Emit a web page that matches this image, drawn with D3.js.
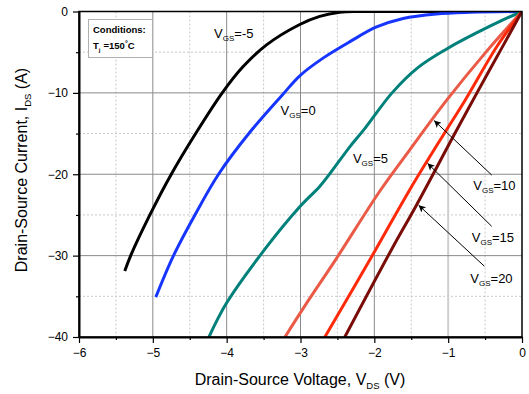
<!DOCTYPE html>
<html>
<head>
<meta charset="utf-8">
<script src="https://cdn.jsdelivr.net/npm/d3@7"></script>
<style>
  html, body { margin: 0; padding: 0; background: #fff; }
  svg { display: block; font-family: "Liberation Sans", Arial, sans-serif; }
</style>
</head>
<body>
<svg id="chart" width="529" height="394"></svg>
<script>
// Reverse-conduction I-V curves, Tj = 150 °C, one curve per gate voltage
const gateVoltages = [-5, 0, 5, 10, 15, 20];
const seriesColors = ["#000000", "#1636ff", "#00807a", "#ea5a46", "#ff2a0a", "#7a0c08"];

// [V_DS (V), I_DS (A)]
const curveVgsM5 = [[-5.38,-31.9],[-5.30,-30],[-5.04,-25],[-4.75,-20],[-4.42,-15],[-4.06,-10],[-3.78,-6.8],[-3.46,-4.1],[-3.01,-1.6],[-2.74,-0.6],[-2.47,-0.1],[-2.2,0],[-1.5,0],[0,0]];
const curveVgs0 = [[-4.96,-35.1],[-4.72,-30],[-4.43,-25],[-4.11,-20],[-3.70,-15],[-3.24,-10.2],[-3.01,-7.9],[-2.69,-5.7],[-2.33,-3.7],[-1.97,-1.9],[-1.61,-0.85],[-1.16,-0.3],[-0.70,-0.1],[0,0]];
const curveVgs5 = [[-4.24,-40],[-4.0,-35.8],[-3.49,-29.3],[-3.01,-24.0],[-2.74,-21.5],[-2.60,-19.9],[-2.33,-16.6],[-2.13,-14.4],[-1.76,-10.0],[-1.41,-6.9],[-1.02,-4.6],[-0.61,-2.6],[-0.25,-1.0],[0,0]];
const curveVgs10 = [[-3.21,-40],[-2.95,-36.3],[-2.51,-30.3],[-1.92,-22.0],[-1.52,-17.0],[-1.02,-10.9],[-0.48,-4.9],[0,0]];
const curveVgs15 = [[-2.67,-40],[-1.99,-29.4],[-1.52,-21.9],[-1.04,-14.8],[-0.77,-10.9],[-0.34,-4.3],[0,0]];
const curveVgs20 = [[-2.40,-40],[-1.77,-29.3],[-1.43,-23.8],[-0.91,-15.0],[-0.61,-10.0],[-0.25,-4.1],[0,0]];
const curves = [curveVgsM5, curveVgs0, curveVgs5, curveVgs10, curveVgs15, curveVgs20];

const xTicks = [-6, -5, -4, -3, -2, -1, 0];
const xMinorTicks = [-5.5, -4.5, -3.5, -2.5, -1.5, -0.5];
const yTicks = [0, -10, -20, -30, -40];
const yMinorTicks = [-5, -15, -25, -35];

// curve labels: [V_DS, I_DS] of the label start
const labelPos = [[-4.17,-3.3],[-3.27,-12.7],[-2.29,-18.65],[-0.66,-21.9],[-0.68,-28.3],[-0.70,-33.35]];
// leader arrows for the three right-hand labels: [tail, tip]
const arrowLines = [
  {vgs: 10, from: [-0.41,-20.1], to: [-1.19,-13.4]},
  {vgs: 15, from: [-0.41,-26.4], to: [-1.28,-18.65]},
  {vgs: 20, from: [-0.51,-31.3], to: [-1.40,-23.8]}
];

const svg = d3.select("#chart");
const plotL = 79, plotR = 522, plotT = 11.5, plotB = 337;

const x = d3.scaleLinear().domain([-6, 0]).range([plotL, plotR]);
const y = d3.scaleLinear().domain([-40, 0]).range([plotB, plotT]);

const defs = svg.append("defs");
defs.append("clipPath").attr("id", "plotClip")
  .append("rect").attr("x", plotL).attr("y", plotT)
  .attr("width", plotR - plotL).attr("height", plotB - plotT);

defs.append("marker")
  .attr("id", "arrowHead").attr("viewBox", "0 0 10 10")
  .attr("refX", 10).attr("refY", 5)
  .attr("markerWidth", 10).attr("markerHeight", 7)
  .attr("markerUnits", "userSpaceOnUse")
  .attr("orient", "auto")
  .append("path").attr("d", "M0,0 L10,5 L0,10 L2.5,5 Z").attr("fill", "#000");

// grid
const grid = svg.append("g");
grid.selectAll(".vmin").data(xMinorTicks).join("line")
  .attr("x1", d => x(d)).attr("x2", d => x(d)).attr("y1", plotT).attr("y2", plotB)
  .attr("stroke", "#c8c8c8").attr("stroke-width", 1).attr("stroke-dasharray", "2,2");
grid.selectAll(".hmin").data(yMinorTicks).join("line")
  .attr("x1", plotL).attr("x2", plotR).attr("y1", d => y(d)).attr("y2", d => y(d))
  .attr("stroke", "#c8c8c8").attr("stroke-width", 1).attr("stroke-dasharray", "2,2");
grid.selectAll(".vmaj").data(xTicks.filter(d => d > -6 && d < 0)).join("line")
  .attr("x1", d => x(d)).attr("x2", d => x(d)).attr("y1", plotT).attr("y2", plotB)
  .attr("stroke", d => d === -1 ? "#cfcfcf" : "#8a8a8a")
  .attr("stroke-width", d => d === -1 ? 2 : 1);
grid.selectAll(".hmaj").data(yTicks.filter(d => d > -40 && d < 0)).join("line")
  .attr("x1", plotL).attr("x2", plotR).attr("y1", d => y(d)).attr("y2", d => y(d))
  .attr("stroke", "#8a8a8a").attr("stroke-width", 1);

// curves
const line = d3.line().x(d => x(d[0])).y(d => y(d[1])).curve(d3.curveCatmullRom.alpha(0.5));
svg.append("g").attr("clip-path", "url(#plotClip)")
  .selectAll("path").data(curves).join("path")
  .attr("d", line).attr("fill", "none")
  .attr("stroke", (d, i) => seriesColors[i]).attr("stroke-width", 3)
  .attr("stroke-linejoin", "round").attr("stroke-linecap", "butt");

// frame
svg.append("rect").attr("x", plotL).attr("y", plotT)
  .attr("width", plotR - plotL).attr("height", plotB - plotT)
  .attr("fill", "none").attr("stroke", "#000").attr("stroke-width", 1.5);

// axes
svg.append("g").attr("transform", `translate(0,${plotB})`)
  .call(d3.axisBottom(x).tickValues(xTicks).tickSize(6).tickPadding(5).tickSizeOuter(0).tickFormat(d3.format("d")));
svg.append("g").attr("transform", `translate(0,${plotB})`)
  .call(d3.axisBottom(x).tickValues(xMinorTicks).tickSize(3).tickFormat("").tickSizeOuter(0))
  .call(g => g.select(".domain").remove());
svg.append("g").attr("transform", `translate(${plotL},0)`)
  .call(d3.axisLeft(y).tickValues(yTicks).tickSize(6).tickPadding(5).tickSizeOuter(0).tickFormat(d3.format("d")));
svg.append("g").attr("transform", `translate(${plotL},0)`)
  .call(d3.axisLeft(y).tickValues(yMinorTicks).tickSize(3).tickFormat("").tickSizeOuter(0))
  .call(g => g.select(".domain").remove());
svg.selectAll(".tick line").attr("stroke", "#000").attr("stroke-width", 1.2);
svg.selectAll(".domain").attr("stroke", "#000").attr("stroke-width", 2);
svg.selectAll(".tick text").attr("font-size", 12).attr("fill", "#000")
  .attr("font-family", "Liberation Sans, Arial, sans-serif");

// axis titles
const xt = svg.append("text").attr("x", 300).attr("y", 385)
  .attr("text-anchor", "middle").attr("font-size", 16).attr("fill", "#000");
xt.append("tspan").text("Drain-Source Voltage, V");
xt.append("tspan").attr("font-size", 9.5).attr("dy", 4).text("DS");
xt.append("tspan").attr("dy", -4).text(" (V)");

const yt = svg.append("text").attr("transform", `translate(27,170) rotate(-90)`)
  .attr("text-anchor", "middle").attr("font-size", 16).attr("fill", "#000");
yt.append("tspan").text("Drain-Source Current, I");
yt.append("tspan").attr("font-size", 9.5).attr("dy", 4).text("DS");
yt.append("tspan").attr("dy", -4).text(" (A)");

// curve labels
const labels = svg.append("g");
gateVoltages.forEach((v, i) => {
  const t = labels.append("text").attr("x", x(labelPos[i][0])).attr("y", y(labelPos[i][1]))
    .attr("font-size", 13).attr("fill", "#000");
  t.append("tspan").text("V");
  t.append("tspan").attr("font-size", 8).attr("dy", 3).text("GS");
  t.append("tspan").attr("dy", -3).text("=" + v);
});

// leader arrows
svg.append("g").selectAll("line").data(arrowLines).join("line")
  .attr("x1", d => x(d.from[0])).attr("y1", d => y(d.from[1]))
  .attr("x2", d => x(d.to[0])).attr("y2", d => y(d.to[1]))
  .attr("stroke", "#000").attr("stroke-width", 1)
  .attr("marker-end", "url(#arrowHead)");

// conditions box
const box = svg.append("g");
box.append("rect").attr("x", 88.5).attr("y", 19.5).attr("width", 64).attr("height", 38)
  .attr("fill", "#fff").attr("stroke", "#b0b0b0").attr("stroke-width", 1);
box.append("text").attr("x", 93).attr("y", 32.5).attr("font-size", 9.5).attr("font-weight", "bold")
  .attr("fill", "#000").text("Conditions:");
const tj = box.append("text").attr("x", 93).attr("y", 48.5).attr("font-size", 9.5)
  .attr("font-weight", "bold").attr("fill", "#000");
tj.append("tspan").text("T");
tj.append("tspan").attr("font-size", 6).attr("dy", 3).text("j");
tj.append("tspan").attr("dy", -3).attr("dx", 3).text("=150");
tj.append("tspan").attr("font-size", 7).attr("dy", -3).text("°");
tj.append("tspan").attr("dy", 3).text("C");
</script>
</body>
</html>
